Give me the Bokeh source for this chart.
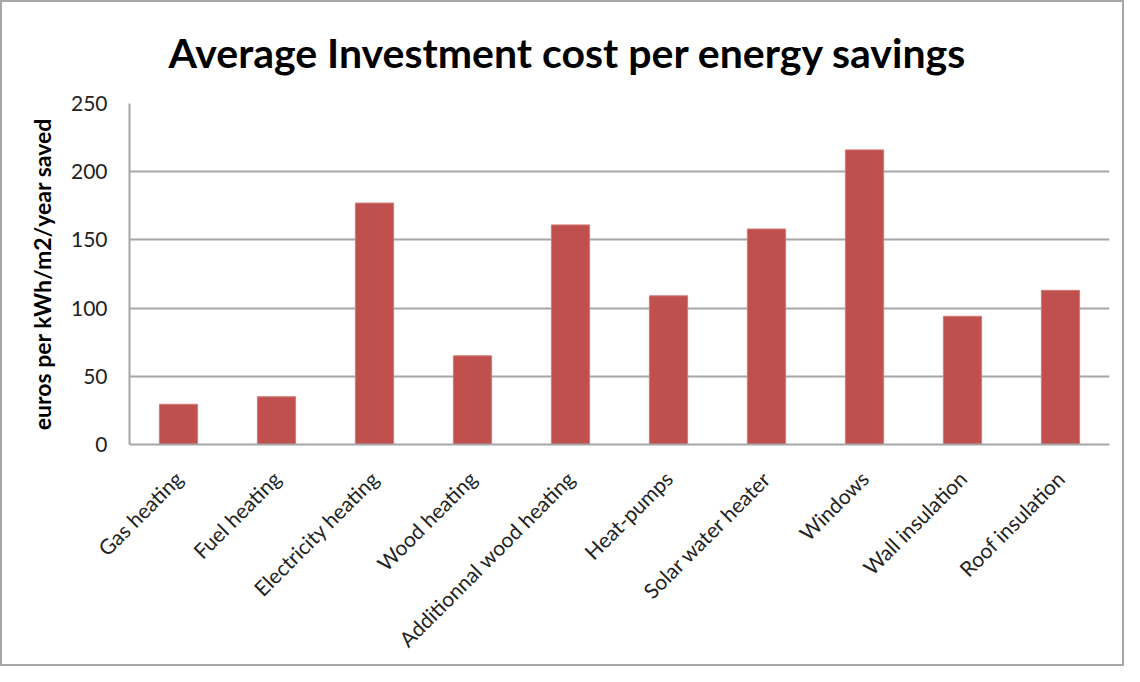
from math import pi
from bokeh.plotting import figure
from bokeh.models import ColumnDataSource, Range1d, FixedTicker
from bokeh.embed import file_html
from bokeh.resources import INLINE

categories = ["Gas heating", "Fuel heating", "Electricity heating", "Wood heating",
              "Additionnal wood heating", "Heat-pumps", "Solar water heater",
              "Windows", "Wall insulation", "Roof insulation"]
values = [29.5, 35, 177, 65, 161, 109, 158, 216, 94, 113]
y_ticks = [0, 50, 100, 150, 200, 250]

FONT = "Lato"
BAR_COLOR = "#C0504D"
GRID_COLOR = "#a6a6a6"

source = ColumnDataSource(data=dict(cat=categories, val=values))

p = figure(x_range=categories, width=1124, height=666,
           output_backend="svg", toolbar_location=None,
           title="Average Investment cost per energy savings")
p.min_border_left = 127
p.min_border_right = 17
p.min_border_top = 100
p.min_border_bottom = 224

p.vbar(x="cat", top="val", width=0.39, source=source,
       fill_color=BAR_COLOR, line_color="#d27a78", line_width=1)

p.y_range = Range1d(0, 250)
p.x_range.range_padding = 0

p.title.text_font = FONT
p.title.text_font_size = "41px"
p.title.text_font_style = "bold"
p.title.text_color = "black"
p.title.align = "left"
p.title.offset = 19
p.title.standoff = 10
p.title.vertical_align = "top"
p.title.padding = 20

p.yaxis.ticker = FixedTicker(ticks=y_ticks)
p.yaxis.axis_label = "euros per kWh/m2/year saved"
p.yaxis.axis_label_text_font = FONT
p.yaxis.axis_label_text_font_size = "23px"
p.yaxis.axis_label_text_font_style = "bold"
p.yaxis.axis_label_text_color = "black"
p.yaxis.axis_label_standoff = 12
p.yaxis.major_label_text_font = FONT
p.yaxis.major_label_text_font_size = "21px"
p.yaxis.major_label_text_color = "#222222"
p.yaxis.major_label_standoff = 16
p.yaxis.axis_line_color = GRID_COLOR
p.yaxis.axis_line_width = 2
p.yaxis.major_tick_line_color = None
p.yaxis.minor_tick_line_color = None

p.xaxis.major_label_orientation = pi / 4
p.xaxis.major_label_text_font = FONT
p.xaxis.major_label_text_font_size = "21px"
p.xaxis.major_label_text_color = "#222222"
p.xaxis.major_label_standoff = 24
p.xaxis.axis_line_color = GRID_COLOR
p.xaxis.axis_line_width = 2
p.xaxis.major_tick_line_color = None
p.xaxis.minor_tick_line_color = None

p.xgrid.grid_line_color = None
p.ygrid.grid_line_color = GRID_COLOR
p.ygrid.grid_line_width = 2
p.outline_line_color = None
p.background_fill_color = "white"
p.border_fill_color = "white"
p.styles = {"border": "2px solid #a6a6a6", "box-sizing": "border-box"}

open("out.html", "w").write(file_html(p, INLINE))
